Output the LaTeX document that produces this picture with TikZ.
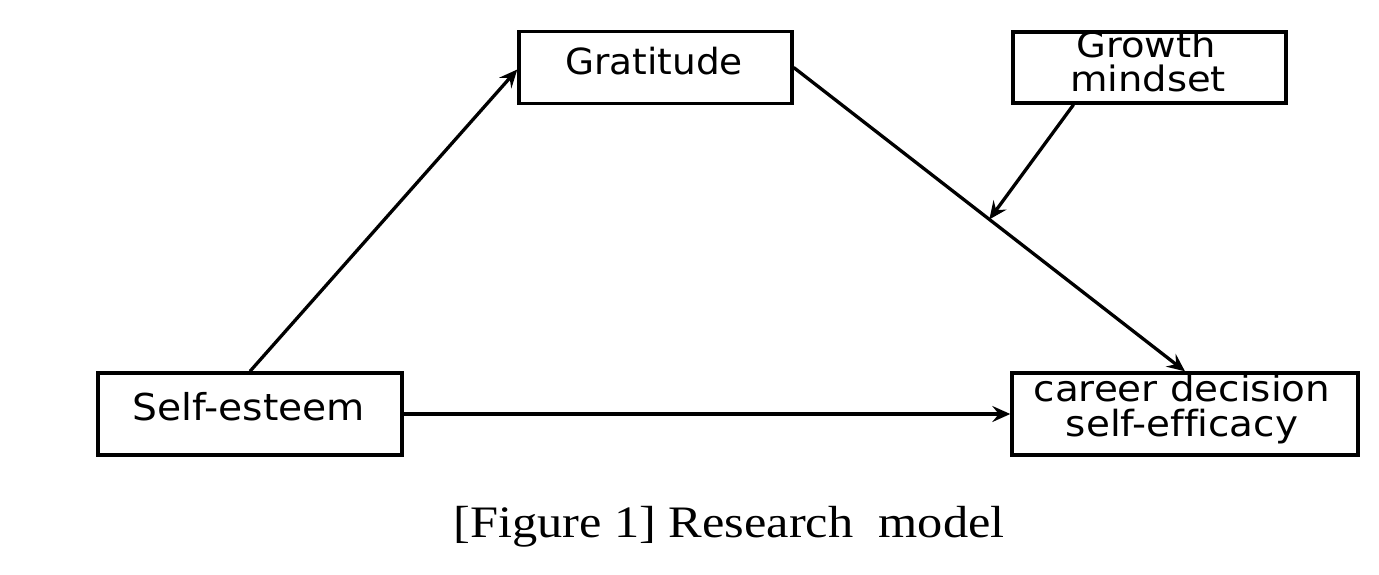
\documentclass[tikz,border=0pt]{standalone}
\usepackage{fontspec}
\newfontfamily\dvs[Ligatures=NoCommon]{DejaVu Sans}
\newfontfamily\lser{Liberation Serif}
\usetikzlibrary{arrows.meta}
\begin{document}
\begin{tikzpicture}[x=1pt,y=-1pt,
  box/.style={draw=black,line width=3.4pt,fill=white,inner sep=0pt},
  lbl/.style={inner sep=0pt,anchor=base,font=\dvs\fontsize{36}{35}\selectfont,align=center},
  arr/.style={line width=3.3pt,-{Stealth[length=18pt,width=16pt,inset=6.5pt]}},
  captext/.style={inner sep=0pt,anchor=base,font=\lser\fontsize{45}{50}\selectfont}]
\useasboundingbox (0,0) rectangle (1379,574);
\node[box,minimum width=273pt,minimum height=72pt] (grat) at (655.5,67.5) {};
\node[box,minimum width=273pt,minimum height=71pt] (gm) at (1149.5,67.5) {};
\node[box,minimum width=304pt,minimum height=82pt] (se) at (250,414) {};
\node[box,minimum width=346pt,minimum height=82pt] (car) at (1185,414) {};
\node[lbl,xscale=1.04] (gratT) at (654,74) {Gratitude};
\node[lbl,xscale=1.06,font=\dvs\fontsize{37}{35}\selectfont] (seT) at (249,420) {Self-esteem};
\node[lbl,xscale=1.1,font=\dvs\fontsize{35}{34}\selectfont] (gmT1) at (1146,57) {Growth};
\node[lbl,xscale=1.1,font=\dvs\fontsize{35}{34}\selectfont] (gmT2) at (1148,91) {mindset};
\node[lbl,xscale=1.08] (carT1) at (1182,401) {career decision};
\node[lbl,xscale=1.08] (carT2) at (1182,436) {self-efficacy};
\node[captext,xscale=1.12] (caption) at (729,537) {[Figure 1] Research~~model};
\draw[arr] (se.north) -- ([yshift=-2pt]grat.west);
\draw[arr] (grat.east) -- (car.north) coordinate[pos=0.5] (m);
\draw[arr] ([xshift=-76pt]gm.south) -- (m);
\draw[arr] (se.east) -- (car.west);
\end{tikzpicture}
\end{document}
